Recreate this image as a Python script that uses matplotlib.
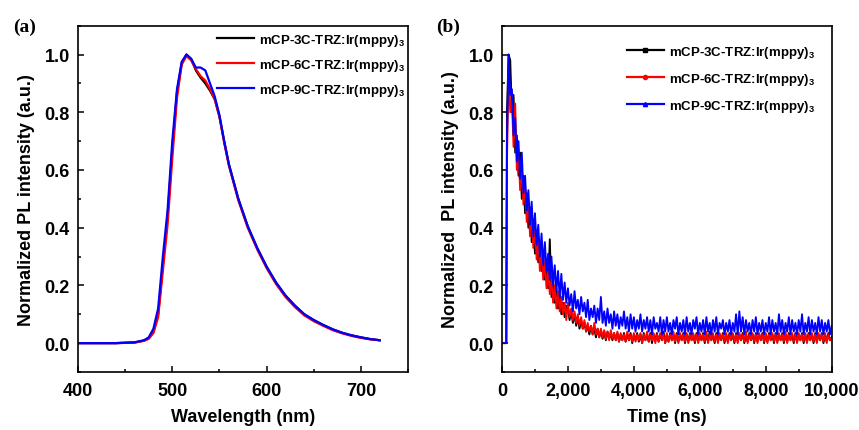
import matplotlib
matplotlib.use('Agg')
import matplotlib.pyplot as plt
from matplotlib.lines import Line2D
from matplotlib.ticker import MultipleLocator

plt.rcParams['font.family'] = 'Liberation Sans'
plt.rcParams['font.weight'] = 'bold'
plt.rcParams['mathtext.fontset'] = 'custom'
plt.rcParams['mathtext.rm'] = 'Liberation Sans:bold'
plt.rcParams['mathtext.default'] = 'rm'

labels = ['mCP-3C-TRZ:Ir(mppy)$_3$', 'mCP-6C-TRZ:Ir(mppy)$_3$', 'mCP-9C-TRZ:Ir(mppy)$_3$']
colors = ['black', 'red', 'blue']

# (a) steady-state PL spectra
wavelength = [400, 420, 440, 460, 470, 475, 480, 485, 490, 495, 500, 505, 510, 515, 520,
              525, 530, 535, 540, 545, 550, 555, 560, 570, 580, 590, 600, 610, 620, 630,
              640, 650, 660, 670, 680, 690, 700, 710, 720]
pl_3c = [0.0, 0.0, 0.0, 0.002, 0.009, 0.017, 0.04, 0.10, 0.27, 0.44, 0.67, 0.87, 0.97, 1.0, 0.985,
         0.945, 0.92, 0.90, 0.875, 0.845, 0.785, 0.70, 0.62, 0.50, 0.405, 0.33, 0.265, 0.21, 0.165, 0.13,
         0.10, 0.08, 0.063, 0.048, 0.036, 0.027, 0.02, 0.014, 0.010]
pl_6c = [0.0, 0.0, 0.0, 0.002, 0.008, 0.015, 0.035, 0.09, 0.25, 0.41, 0.64, 0.85, 0.965, 0.995, 0.98,
         0.95, 0.925, 0.91, 0.88, 0.845, 0.785, 0.695, 0.615, 0.495, 0.40, 0.325, 0.26, 0.205, 0.16, 0.125,
         0.096, 0.076, 0.06, 0.045, 0.034, 0.025, 0.018, 0.013, 0.010]
pl_9c = [0.0, 0.0, 0.0, 0.003, 0.01, 0.02, 0.05, 0.12, 0.30, 0.46, 0.70, 0.88, 0.975, 1.0, 0.985,
         0.955, 0.955, 0.945, 0.90, 0.855, 0.79, 0.70, 0.62, 0.50, 0.405, 0.33, 0.265, 0.21, 0.165, 0.13,
         0.10, 0.08, 0.063, 0.048, 0.036, 0.027, 0.02, 0.014, 0.010]

# (b) transient PL decay: 0, 130, 150 ns, then every 50 ns from 200 to 10000
time_ns = [0, 130, 150] + list(range(200, 10001, 50))
tr_3c = [0.0, 0.0, 0.80,
         # 200 - 1950
         1.00, 0.98, 0.80, 0.86, 0.66, 0.72, 0.58, 0.66, 0.50, 0.58,
         0.45, 0.52, 0.40, 0.47, 0.35, 0.43, 0.31, 0.39, 0.28, 0.35,
         0.25, 0.31, 0.22, 0.28, 0.19, 0.36, 0.16, 0.22, 0.14, 0.19,
         0.12, 0.17, 0.10, 0.14, 0.09, 0.13,
         # 2000 - 9950
         0.12, 0.08, 0.11, 0.07, 0.10, 0.06, 0.09, 0.05, 0.08, 0.05,
         0.07, 0.04, 0.06, 0.03, 0.06, 0.03, 0.05, 0.02, 0.05, 0.02,
         0.045, 0.015, 0.04, 0.01, 0.04, 0.015, 0.035, 0.01, 0.035, 0.01,
         0.035, 0.005, 0.03, 0.01, 0.035, 0.005, 0.03, 0.01, 0.035, 0.0,
         0.03, 0.01, 0.035, 0.005, 0.03, 0.0, 0.035, 0.01, 0.03, 0.005,
         0.035, 0.0, 0.03, 0.01, 0.035, 0.005, 0.03, 0.01, 0.04, 0.0,
         0.03, 0.005, 0.035, 0.01, 0.03, 0.0, 0.035, 0.005, 0.03, 0.01,
         0.035, 0.0, 0.03, 0.005, 0.035, 0.01, 0.03, 0.0, 0.035, 0.005,
         0.03, 0.01, 0.035, 0.0, 0.03, 0.005, 0.04, 0.01, 0.03, 0.0,
         0.035, 0.005, 0.03, 0.01, 0.035, 0.0, 0.03, 0.005, 0.035, 0.01,
         0.03, 0.0, 0.035, 0.005, 0.03, 0.01, 0.035, 0.0, 0.03, 0.005,
         0.035, 0.01, 0.03, 0.0, 0.035, 0.005, 0.03, 0.01, 0.035, 0.0,
         0.03, 0.005, 0.035, 0.01, 0.03, 0.0, 0.035, 0.005, 0.03, 0.01,
         0.035, 0.0, 0.03, 0.005, 0.035, 0.01, 0.03, 0.0, 0.035, 0.005,
         0.03, 0.01, 0.035, 0.0, 0.03, 0.005, 0.035, 0.01, 0.03, 0.0,
         0.035, 0.005, 0.03, 0.01, 0.035, 0.0, 0.03, 0.005, 0.035, 0.01,
         # 10000
         0.02]
tr_6c = [0.0, 0.0, 0.62,
         # 200 - 1950
         0.95, 0.80, 0.84, 0.68, 0.83, 0.60, 0.66, 0.53, 0.62, 0.48,
         0.55, 0.42, 0.50, 0.37, 0.45, 0.33, 0.40, 0.29, 0.36, 0.25,
         0.32, 0.22, 0.28, 0.19, 0.25, 0.17, 0.22, 0.14, 0.20, 0.12,
         0.18, 0.11, 0.16, 0.10, 0.14, 0.08,
         # 2000 - 9950
         0.14, 0.09, 0.12, 0.08, 0.11, 0.07, 0.10, 0.06, 0.09, 0.05,
         0.08, 0.04, 0.07, 0.04, 0.06, 0.03, 0.07, 0.03, 0.05, 0.02,
         0.05, 0.02, 0.045, 0.015, 0.04, 0.01, 0.045, 0.015, 0.035, 0.01,
         0.04, 0.005, 0.035, 0.01, 0.03, 0.005, 0.04, 0.01, 0.03, 0.005,
         0.035, 0.005, 0.03, 0.01, 0.035, 0.0, 0.03, 0.01, 0.04, 0.005,
         0.03, 0.01, 0.035, 0.0, 0.03, 0.005, 0.035, 0.01, 0.03, 0.0,
         0.035, 0.005, 0.03, 0.01, 0.04, 0.005, 0.03, 0.0, 0.035, 0.01,
         0.03, 0.005, 0.035, 0.0, 0.03, 0.01, 0.035, 0.005, 0.03, 0.0,
         0.035, 0.01, 0.03, 0.005, 0.04, 0.0, 0.03, 0.01, 0.035, 0.005,
         0.03, 0.0, 0.035, 0.01, 0.03, 0.005, 0.035, 0.0, 0.03, 0.01,
         0.035, 0.005, 0.03, 0.0, 0.035, 0.01, 0.03, 0.005, 0.04, 0.0,
         0.03, 0.01, 0.035, 0.005, 0.03, 0.0, 0.035, 0.01, 0.03, 0.005,
         0.035, 0.0, 0.03, 0.01, 0.035, 0.005, 0.03, 0.0, 0.035, 0.01,
         0.03, 0.005, 0.04, 0.0, 0.03, 0.01, 0.035, 0.005, 0.03, 0.0,
         0.035, 0.01, 0.03, 0.005, 0.035, 0.0, 0.03, 0.01, 0.035, 0.005,
         0.03, 0.0, 0.035, 0.01, 0.03, 0.005, 0.035, 0.0, 0.03, 0.01,
         # 10000
         0.02]
tr_9c = [0.0, 0.0, 0.70,
         # 200 - 1950
         1.00, 0.86, 0.88, 0.72, 0.78, 0.63, 0.70, 0.57, 0.66, 0.52,
         0.58, 0.46, 0.53, 0.41, 0.49, 0.37, 0.45, 0.34, 0.41, 0.30,
         0.38, 0.27, 0.35, 0.25, 0.31, 0.22, 0.30, 0.20, 0.27, 0.18,
         0.25, 0.16, 0.24, 0.15, 0.21, 0.14,
         # 2000 - 9950
         0.19, 0.13, 0.17, 0.11, 0.18, 0.12, 0.15, 0.10, 0.16, 0.11,
         0.14, 0.09, 0.15, 0.08, 0.12, 0.09, 0.13, 0.07, 0.12, 0.08,
         0.16, 0.07, 0.11, 0.06, 0.12, 0.07, 0.10, 0.05, 0.11, 0.06,
         0.10, 0.05, 0.09, 0.06, 0.11, 0.05, 0.09, 0.04, 0.10, 0.05,
         0.09, 0.04, 0.08, 0.05, 0.10, 0.04, 0.08, 0.05, 0.09, 0.04,
         0.08, 0.03, 0.09, 0.05, 0.07, 0.04, 0.09, 0.03, 0.08, 0.04,
         0.09, 0.04, 0.07, 0.03, 0.08, 0.05, 0.09, 0.03, 0.07, 0.04,
         0.08, 0.03, 0.09, 0.04, 0.07, 0.03, 0.08, 0.05, 0.09, 0.03,
         0.07, 0.04, 0.08, 0.03, 0.09, 0.04, 0.07, 0.03, 0.08, 0.04,
         0.09, 0.03, 0.07, 0.05, 0.08, 0.03, 0.07, 0.04, 0.08, 0.03,
         0.07, 0.04, 0.10, 0.03, 0.11, 0.04, 0.09, 0.03, 0.08, 0.04,
         0.07, 0.03, 0.08, 0.04, 0.09, 0.03, 0.07, 0.04, 0.08, 0.03,
         0.07, 0.04, 0.09, 0.03, 0.08, 0.04, 0.07, 0.03, 0.10, 0.04,
         0.08, 0.03, 0.07, 0.04, 0.09, 0.03, 0.08, 0.04, 0.07, 0.03,
         0.08, 0.04, 0.10, 0.03, 0.07, 0.04, 0.09, 0.03, 0.08, 0.04,
         0.07, 0.03, 0.09, 0.04, 0.08, 0.03, 0.07, 0.04, 0.08, 0.03,
         # 10000
         0.06]

time_ticks = [0, 2000, 4000, 6000, 8000, 10000]
time_ticklabels = ['0', '2,000', '4,000', '6,000', '8,000', '10,000']
y_ticks = [0.0, 0.2, 0.4, 0.6, 0.8, 1.0]


def style_axes(ax):
  ax.set_ylim(-0.1, 1.1)
  ax.set_yticks(y_ticks)
  ax.yaxis.set_minor_locator(MultipleLocator(0.1))
  ax.tick_params(which='both', direction='in', top=False, right=False, labelsize=13)
  ax.tick_params(axis='x', pad=7)
  ax.tick_params(axis='y', pad=6)
  ax.tick_params(which='major', length=4.5, width=1.1)
  ax.tick_params(which='minor', length=2.5, width=1.1)
  for s in ax.spines.values():
    s.set_linewidth(1.2)


fig = plt.figure(figsize=(8.59, 4.31), dpi=100)

# panel (a)
ax1 = fig.add_axes([0.0908, 0.1346, 0.3842, 0.8035])
for y, c, l in zip([pl_3c, pl_6c, pl_9c], colors, labels):
  ax1.plot(wavelength, y, color=c, lw=1.6, label=l)
ax1.set_xlim(400, 750)
ax1.set_xticks([400, 500, 600, 700])
ax1.xaxis.set_minor_locator(MultipleLocator(50))
style_axes(ax1)
ax1.set_xlabel('Wavelength (nm)', fontsize=13, fontweight='bold', labelpad=7)
ax1.set_ylabel('Normalized PL intensity (a.u.)', fontsize=13, fontweight='bold', labelpad=7)
ax1.legend(loc='upper left', bbox_to_anchor=(0.42, 0.983), frameon=False, fontsize=9.5,
           handlelength=2.8, handletextpad=0.4, labelspacing=0.7, borderpad=0, borderaxespad=0)

# panel (b)
ax2 = fig.add_axes([0.5844, 0.1346, 0.3838, 0.8035])
for y, c in zip([tr_3c, tr_6c, tr_9c], colors):
  ax2.plot(time_ns, y, color=c, lw=1.35)
ax2.set_xlim(0, 10000)
ax2.set_xticks(time_ticks)
ax2.set_xticklabels(time_ticklabels)
ax2.xaxis.set_minor_locator(MultipleLocator(1000))
style_axes(ax2)
ax2.set_xlabel('Time (ns)', fontsize=13, fontweight='bold', labelpad=7)
ax2.set_ylabel('Normalized  PL intensity (a.u.)', fontsize=13, fontweight='bold', labelpad=7)
handles = [Line2D([], [], color=c, lw=1.6, marker=m, markersize=3)
           for c, m in zip(colors, ['s', 'o', '^'])]
ax2.legend(handles, labels, loc='upper left', bbox_to_anchor=(0.379, 0.948), frameon=False,
           fontsize=9.5, handlelength=2.8, handletextpad=0.4, labelspacing=0.85,
           borderpad=0, borderaxespad=0)

fig.text(0.015, 0.937, '(a)', fontsize=14, fontweight='bold', family='Liberation Serif', va='center')
fig.text(0.508, 0.937, '(b)', fontsize=14, fontweight='bold', family='Liberation Serif', va='center')

fig.savefig('out.png', dpi=100)
